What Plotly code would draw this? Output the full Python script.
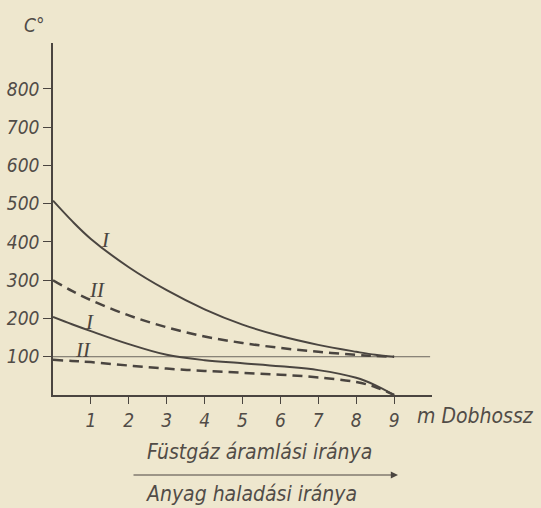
import plotly.graph_objects as go

# Dobhossz (m) positions
x_m = [0, 0.5, 1, 2, 3, 4, 5, 6, 7, 8, 8.5, 9]
# Temperatures (°C)
gas_I = [508, 455, 408, 334, 274, 224, 184, 154, 131, 113, 105, 100]
gas_II = [300, 272, 248, 208, 177, 153, 136, 123, 113, 105, 102, 100]
mat_I = [204, 185, 167, 133, 105, 91, 83, 75, 65, 45, 26, 0]
mat_II = [92, 89, 86, 77, 69, 63, 58, 53, 46, 34, 21, 0]

ref_x = [0, 9.95]
ref_y = [100, 100]

x_ticks = [1, 2, 3, 4, 5, 6, 7, 8, 9]
y_ticks = [100, 200, 300, 400, 500, 600, 700, 800]

bg = "#EEE7CE"
ink = "#4a4540"
txt = "#514c47"
fam = "DejaVu Sans Condensed, DejaVu Sans, sans-serif"
tfont = dict(family=fam, size=19, color=txt, style="italic")
bfont = dict(family=fam, size=21, color=txt, style="italic")
rfont = dict(family="Liberation Serif, DejaVu Serif, serif", size=21, color=ink, style="italic")

# plot area in pixels: x 53..432, y 43..395
L, R, T, B = 53, 432, 43, 395
def px(x):
    return (x - L) / (R - L)
def py(y):
    return (B - y) / (B - T)

sp = dict(shape="spline", smoothing=1.0)
fig = go.Figure()
fig.add_trace(go.Scatter(x=ref_x, y=ref_y, mode="lines", line=dict(color="#6b655e", width=1), hoverinfo="skip"))
fig.add_trace(go.Scatter(x=x_m, y=gas_I, mode="lines", line=dict(color=ink, width=2, **sp)))
fig.add_trace(go.Scatter(x=x_m, y=gas_II, mode="lines", line=dict(color=ink, width=2.5, dash="10px,6px", **sp)))
fig.add_trace(go.Scatter(x=x_m, y=mat_I, mode="lines", line=dict(color=ink, width=2, **sp)))
fig.add_trace(go.Scatter(x=x_m, y=mat_II, mode="lines", line=dict(color=ink, width=2.5, dash="10px,6px", **sp)))

labels = [("I", 1.38, 405), ("II", 1.15, 274), ("I", 0.97, 190), ("II", 0.8, 117)]
for t, lx, ly in labels:
    fig.add_annotation(x=lx, y=ly, xref="x", yref="y", text=t, showarrow=False, font=rfont)

fig.add_annotation(x=px(415), y=py(416), xref="paper", yref="paper", text="m Dobhossz", showarrow=False,
                   xanchor="left", yanchor="middle", font=bfont)
fig.add_annotation(x=px(259), y=py(452), xref="paper", yref="paper", text="Füstgáz áramlási iránya",
                   showarrow=False, xanchor="center", yanchor="middle", font=bfont)
fig.add_annotation(x=px(251), y=py(494), xref="paper", yref="paper", text="Anyag haladási iránya",
                   showarrow=False, xanchor="center", yanchor="middle", font=bfont)
fig.add_annotation(x=px(398), y=py(475), xref="paper", yref="paper", ax=-(398 - 132), ay=0,
                   text="", showarrow=True, arrowhead=2, arrowsize=1.2, arrowwidth=1.2, arrowcolor=ink)
fig.add_annotation(x=px(34), y=py(25), xref="paper", yref="paper", text="C°", showarrow=False,
                   xanchor="center", yanchor="middle", font=tfont)

fig.update_layout(
    width=541, height=508,
    margin=dict(l=L, r=541 - R, t=T, b=508 - B),
    paper_bgcolor=bg, plot_bgcolor=bg,
    showlegend=False,
    xaxis=dict(range=[0, 10], showgrid=False, zeroline=False, showline=True, linecolor=ink, linewidth=1.5,
               tickvals=x_ticks, ticks="outside", ticklen=7, tickcolor=ink, tickwidth=1,
               tickfont=tfont, automargin=False),
    yaxis=dict(range=[0, 920], showgrid=False, zeroline=False, showline=True, linecolor=ink, linewidth=1.5,
               tickvals=y_ticks, ticks="outside", ticklen=8, tickcolor=ink, tickwidth=1,
               tickfont=tfont, automargin=False),
)

fig.write_html("out.html", config={"displayModeBar": False},
               post_script="document.body.style.margin='0';")
